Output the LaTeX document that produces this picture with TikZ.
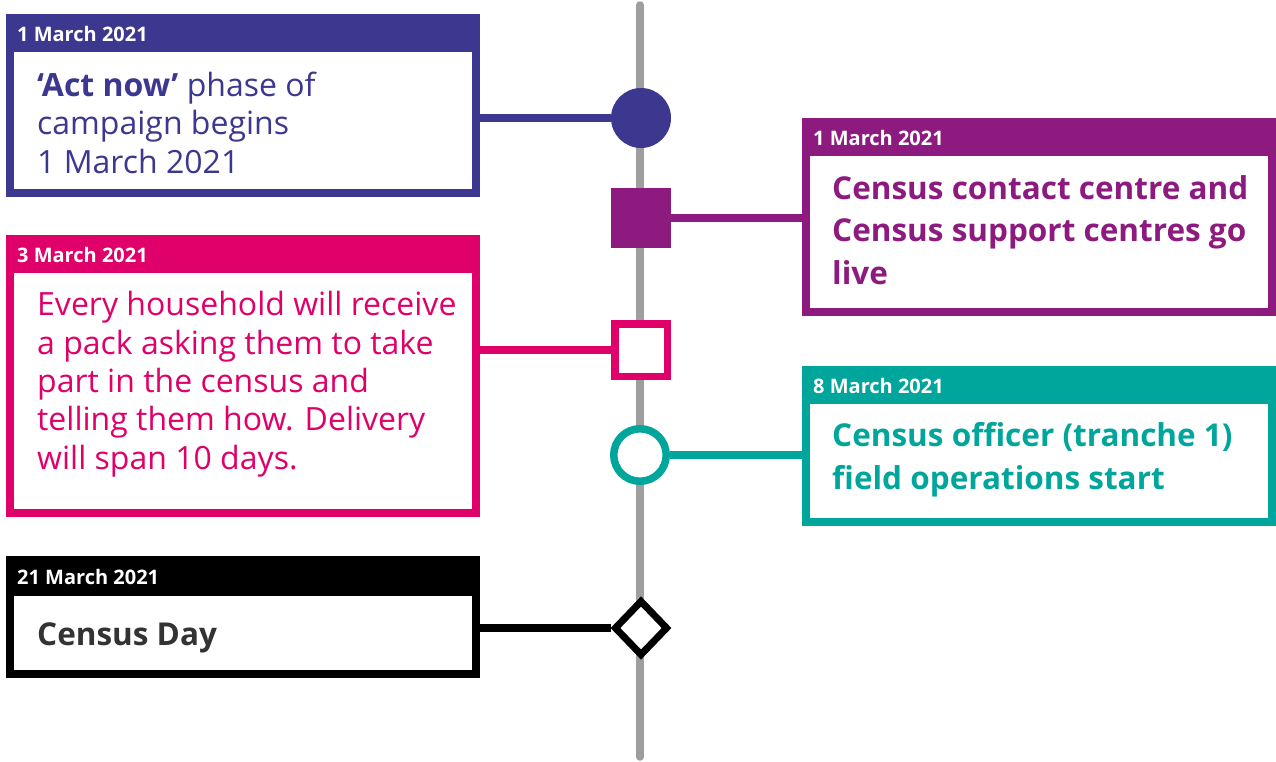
\documentclass[tikz,border=0pt]{standalone}
\usepackage{fontspec}
\setmainfont{Open Sans}
\usepackage{xcolor}
\usetikzlibrary{positioning,calc,shapes.geometric}

\definecolor{censusnavy}{HTML}{3C388F}
\definecolor{censuspurple}{HTML}{8D1B7F}
\definecolor{censuspink}{HTML}{E0006A}
\definecolor{censusteal}{HTML}{00A69C}
\definecolor{censusgrey}{HTML}{9E9E9E}
\definecolor{censusdark}{HTML}{333333}

\tikzset{
  evcard/.style   = {rectangle, fill=#1, anchor=north west, minimum width=474pt,
                     inner sep=0pt, outer sep=0pt},
  evsheet/.style  = {rectangle, fill=white, anchor=south, minimum width=458pt,
                     inner sep=0pt, outer sep=0pt},
  evdate/.style   = {text=white, anchor=base west, inner sep=0pt,
                     font=\fontsize{20}{24}\selectfont\bfseries},
  % multi-line texts are anchored at the baseline of their last line
  evtext/.style   = {text=#1, anchor=base west, align=left, inner sep=0pt,
                     font=\fontsize{32}{38.3}\selectfont},
  evbold/.style   = {text=#1, anchor=base west, align=left, inner sep=0pt,
                     font=\fontsize{31.5}{42.5}\selectfont\bfseries},
  evlink/.style   = {draw=#1, line width=8pt},
  mkdot/.style    = {circle, fill=#1, minimum size=60pt, inner sep=0pt},
  mkring/.style   = {circle, draw=#1, fill=white, line width=7.5pt,
                     minimum size=52.5pt, inner sep=0pt},
  mkblock/.style  = {rectangle, fill=#1, minimum size=60pt, inner sep=0pt},
  mksquare/.style = {rectangle, draw=#1, fill=white, line width=7.5pt,
                     minimum size=52.5pt, inner sep=0pt},
  mkdiamond/.style= {diamond, draw=#1, fill=white, line width=7pt,
                     minimum width=54pt, minimum height=56pt, inner sep=0pt}
}

\begin{document}
\begin{tikzpicture}[x=1pt, y=1pt]
  \useasboundingbox (0,0) rectangle (1276,-761);

  % the time axis
  \coordinate (axistop) at (640,-5);
  \coordinate (axisend) at (640,-757);
  \draw[censusgrey, line width=7.5pt, line cap=round] (axistop) -- (axisend);

  % cards, left and right of the axis
  \node[evcard=censusnavy, minimum height=183pt] (act) at (6,-14) {};
  \node[evsheet, minimum height=137pt] at ([yshift=8pt]act.south) {};
  \node[evdate] at ([xshift=11pt, yshift=-27pt]act.north west) {1 March 2021};
  \node[evtext=censusnavy] at ([xshift=31pt, yshift=-159pt]act.north west)
    {\textbf{‘Act now’} phase of\\campaign begins\\1 March 2021};

  \node[evcard=censuspurple, minimum height=198pt] (live) at (802,-118) {};
  \node[evsheet, minimum height=152pt] at ([yshift=8pt]live.south) {};
  \node[evdate] at ([xshift=11pt, yshift=-27pt]live.north west) {1 March 2021};
  \node[evbold=censuspurple] at ([xshift=30pt, yshift=-166pt]live.north west)
    {Census contact centre and\\Census support centres go\\live};

  \node[evcard=censuspink, minimum height=282pt] (pack) at (6,-235) {};
  \node[evsheet, minimum height=236pt] at ([yshift=8pt]pack.south) {};
  \node[evdate] at ([xshift=11pt, yshift=-27pt]pack.north west) {3 March 2021};
  \node[evtext=censuspink] at ([xshift=31pt, yshift=-234pt]pack.north west)
    {Every household will receive\\a pack asking them to take\\part in the census and\\telling them how. Delivery\\will span 10 days.};

  \node[evcard=censusteal, minimum height=160pt] (field) at (802,-366) {};
  \node[evsheet, minimum height=114pt] at ([yshift=8pt]field.south) {};
  \node[evdate] at ([xshift=11pt, yshift=-27pt]field.north west) {8 March 2021};
  \node[evbold=censusteal] at ([xshift=30pt, yshift=-123pt]field.north west)
    {Census officer (tranche 1)\\field operations start};

  \node[evcard=black, minimum height=122pt] (day) at (6,-556) {};
  \node[evsheet, minimum height=74pt] at ([yshift=8pt]day.south) {};
  \node[evdate] at ([xshift=11pt, yshift=-28pt]day.north west) {21 March 2021};
  \node[evbold=censusdark] at ([xshift=31pt, yshift=-89pt]day.north west)
    {Census Day};

  % markers on the axis
  \node[mkdot=censusnavy]    (m1) at (641,-118) {};
  \node[mkblock=censuspurple] (m2) at (641,-218) {};
  \node[mksquare=censuspink] (m3) at (641,-350) {};
  \node[mkring=censusteal]   (m4) at (640,-455) {};
  \node[mkdiamond=black]     (m5) at (641,-628) {};

  % links from cards to markers
  \draw[evlink=censusnavy]   (act.east |- m1) -- (m1);
  \draw[evlink=censuspurple] (m2) -- (live.west |- m2);
  \draw[evlink=censuspink]   (pack.east |- m3) -- (m3);
  \draw[evlink=censusteal]   (m4) -- (field.west |- m4);
  \draw[evlink=black]        (day.east |- m5) -- (m5);
\end{tikzpicture}
\end{document}
